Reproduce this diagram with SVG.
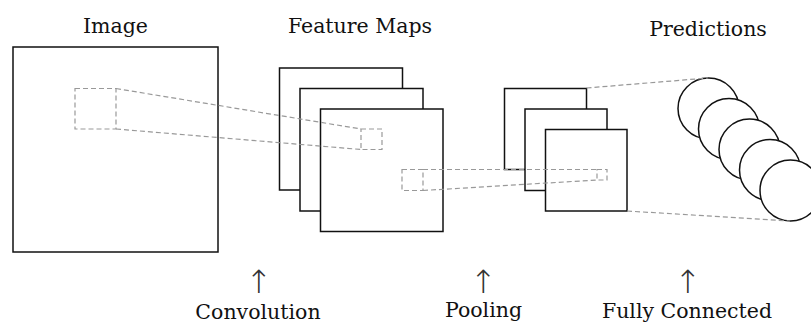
<svg xmlns="http://www.w3.org/2000/svg" width="811" height="323" viewBox="0 0 811 323">
<style>
.box{fill:#fff;stroke:#111;stroke-width:1.5}
.dash{fill:none;stroke:#999;stroke-width:1.2;stroke-dasharray:5 3}
.lbl{font-family:"DejaVu Serif","Liberation Serif",serif;font-size:20.5px;fill:#111;text-anchor:middle}
.arr{font-family:"DejaVu Sans",sans-serif;font-weight:200;font-size:32px;fill:#333;text-anchor:middle}
</style>
<rect width="811" height="323" fill="#fff"/>
<g id="image">
<rect class="box" x="13" y="47" width="205" height="205"/>
<text class="lbl" x="115.5" y="33">Image</text>
</g>
<g id="feature-maps">
<rect class="box" x="279.5" y="68" width="123" height="122"/>
<rect class="box" x="300" y="88.5" width="123" height="122.5"/>
<rect class="box" x="320.5" y="109" width="122.5" height="122.5"/>
<text class="lbl" x="360" y="33">Feature Maps</text>
</g>
<g id="pooled-maps">
<rect class="box" x="504.5" y="88.5" width="82" height="81"/>
<rect class="box" x="525" y="109" width="82" height="81.5"/>
<rect class="box" x="545.5" y="129.5" width="81.5" height="81.5"/>
</g>
<g id="predictions">
<circle class="box" cx="708.5" cy="108.5" r="30.5"/>
<circle class="box" cx="729" cy="129" r="30.5"/>
<circle class="box" cx="749.5" cy="149.5" r="30.5"/>
<circle class="box" cx="770" cy="170" r="30.5"/>
<circle class="box" cx="790.5" cy="190.5" r="30.5"/>
<text class="lbl" x="708" y="35.5">Predictions</text>
</g>
<g id="connectors">
<rect class="dash" x="75" y="88.5" width="41" height="40.5"/>
<line class="dash" x1="116" y1="88.5" x2="361" y2="129"/>
<line class="dash" x1="116" y1="129" x2="361" y2="149.5"/>
<rect class="dash" x="361" y="129" width="21" height="20.5"/>
<rect class="dash" x="402" y="169.5" width="21" height="21"/>
<line class="dash" x1="423" y1="169.5" x2="597" y2="169.5"/>
<line class="dash" x1="423" y1="190.5" x2="597" y2="180"/>
<rect class="dash" x="597" y="169.5" width="10" height="10.5"/>
<line class="dash" x1="586.5" y1="88" x2="708" y2="78"/>
<line class="dash" x1="627" y1="211" x2="790" y2="221"/>
</g>
<g id="stages">
<text class="arr" x="259" y="293">↑</text>
<text class="lbl" x="258" y="319">Convolution</text>
<text class="arr" x="483.5" y="293">↑</text>
<text class="lbl" x="483.5" y="317">Pooling</text>
<text class="arr" x="688" y="293">↑</text>
<text class="lbl" x="687" y="318">Fully Connected</text>
</g>
</svg>
